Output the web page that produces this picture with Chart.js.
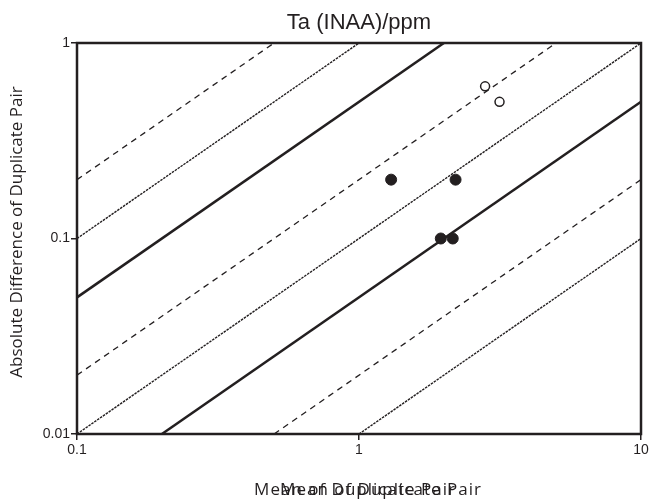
<!DOCTYPE html>
<html><head><meta charset="utf-8">
<script src="https://cdn.jsdelivr.net/npm/chart.js@4"></script>
<style>html,body{margin:0;padding:0;background:#fff}#wrap{width:653px;height:504px}</style>
</head><body><div id="wrap"><canvas id="c" width="653" height="504"></canvas></div>
<script>
// ---- data ----
const chartTitle = 'Ta (INAA)/ppm';
const xTitle = 'Mean of Duplicate Pair';
const yTitle = 'Absolute Difference of Duplicate Pair';
const xTicks = [0.1, 1, 10];
const yTicks = [0.01, 0.1, 1];
const filledX = [1.3, 2.2, 1.95, 2.15];
const filledY = [0.2, 0.2, 0.1, 0.1];
const openX = [2.8, 3.15];
const openY = [0.6, 0.5];
// reference lines: |diff| = ratio * mean
const ratios = [2, 1, 0.5, 0.2, 0.1, 0.05, 0.02, 0.01];

// ---- styles ----
const INK = '#231f20';
const lineStyleByRatio = {
  2: 'dash', 1: 'fine', 0.5: 'solid', 0.2: 'dash',
  0.1: 'fine', 0.05: 'solid', 0.02: 'dash', 0.01: 'fine'
};
const styleDefs = {
  solid: {borderWidth: 2.5, borderDash: []},
  dash: {borderWidth: 1.3, borderDash: [6, 5]},
  fine: {borderWidth: 1.4, borderDash: [2.5, 1]}
};

const xMin = xTicks[0], xMax = xTicks[xTicks.length - 1];
const yMin = yTicks[0], yMax = yTicks[yTicks.length - 1];

const lineDatasets = ratios.map(k => {
  const x0 = Math.max(xMin, yMin / k);
  const x1 = Math.min(xMax, yMax / k);
  const st = styleDefs[lineStyleByRatio[k]];
  return {
    type: 'line',
    data: [{x: x0, y: k * x0}, {x: x1, y: k * x1}],
    borderColor: INK,
    borderWidth: st.borderWidth,
    borderDash: st.borderDash,
    pointRadius: 0,
    fill: false,
    tension: 0,
    order: 2
  };
});

const filledData = filledX.map((x, i) => ({x, y: filledY[i]}));
const openData = openX.map((x, i) => ({x, y: openY[i]}));

const framePlugin = {
  id: 'frame',
  afterDatasetsDraw(chart) {
    const {ctx, chartArea: a} = chart;
    ctx.save();
    ctx.strokeStyle = INK;
    ctx.lineWidth = 2.5;
    ctx.strokeRect(a.left, a.top, a.right - a.left, a.bottom - a.top);
    ctx.restore();
  }
};

// titles drawn as canvas text (two overlapping x titles as in the reference)
const titlesPlugin = {
  id: 'titles',
  afterDraw(chart) {
    const {ctx, chartArea: a} = chart;
    const cx = (a.left + a.right) / 2;
    ctx.save();
    ctx.fillStyle = INK;
    ctx.textAlign = 'center';
    ctx.textBaseline = 'alphabetic';
    ctx.font = '22px "Liberation Sans", Arial, sans-serif';
    ctx.fillText(chartTitle, cx, 29);

    ctx.font = '17px "Open Sans", sans-serif';
    ctx.letterSpacing = '1px';
    ctx.fillText(xTitle, cx - 4, 495);
    ctx.fillText(xTitle, cx + 22, 495);
    ctx.letterSpacing = '0px';

    ctx.translate(17, 232);
    ctx.rotate(-Math.PI / 2);
    ctx.textBaseline = 'middle';
    ctx.fillText(yTitle, 0, 0);
    ctx.restore();
  }
};

const tickFont = {family: '"Liberation Sans", Arial, sans-serif', size: 14};

new Chart(document.getElementById('c'), {
  type: 'scatter',
  data: {
    datasets: [
      ...lineDatasets,
      {
        data: filledData,
        backgroundColor: INK,
        borderColor: INK,
        borderWidth: 1,
        pointRadius: 5.5,
        pointStyle: 'circle',
        order: 1
      },
      {
        data: openData,
        backgroundColor: '#ffffff',
        borderColor: INK,
        borderWidth: 1.5,
        pointRadius: 4.5,
        pointStyle: 'circle',
        order: 1
      }
    ]
  },
  options: {
    responsive: false,
    animation: false,
    devicePixelRatio: 1,
    layout: {padding: {left: 0, right: 12, top: 43, bottom: 0}},
    plugins: {
      legend: {display: false},
      tooltip: {enabled: false},
      title: {display: false}
    },
    scales: {
      x: {
        type: 'logarithmic',
        position: 'bottom',
        min: xMin, max: xMax,
        afterBuildTicks: s => { s.ticks = xTicks.map(v => ({value: v})); },
        afterFit: s => { s.height = 70; },
        ticks: {
          callback: v => String(v),
          font: tickFont, color: INK, padding: 2,
          maxRotation: 0, autoSkip: false
        },
        grid: {display: true, drawOnChartArea: false, drawTicks: true, tickLength: 6, color: INK, lineWidth: 1.5},
        border: {display: false},
        title: {display: false}
      },
      y: {
        type: 'logarithmic',
        position: 'left',
        min: yMin, max: yMax,
        afterBuildTicks: s => { s.ticks = yTicks.map(v => ({value: v})); },
        afterFit: s => { s.width = 77; },
        ticks: {
          callback: v => String(v),
          font: tickFont, color: INK, padding: 1, autoSkip: false
        },
        grid: {display: true, drawOnChartArea: false, drawTicks: true, tickLength: 6, color: INK, lineWidth: 1.5},
        border: {display: false},
        title: {display: false}
      }
    }
  },
  plugins: [framePlugin, titlesPlugin]
});
</script>
</body></html>
